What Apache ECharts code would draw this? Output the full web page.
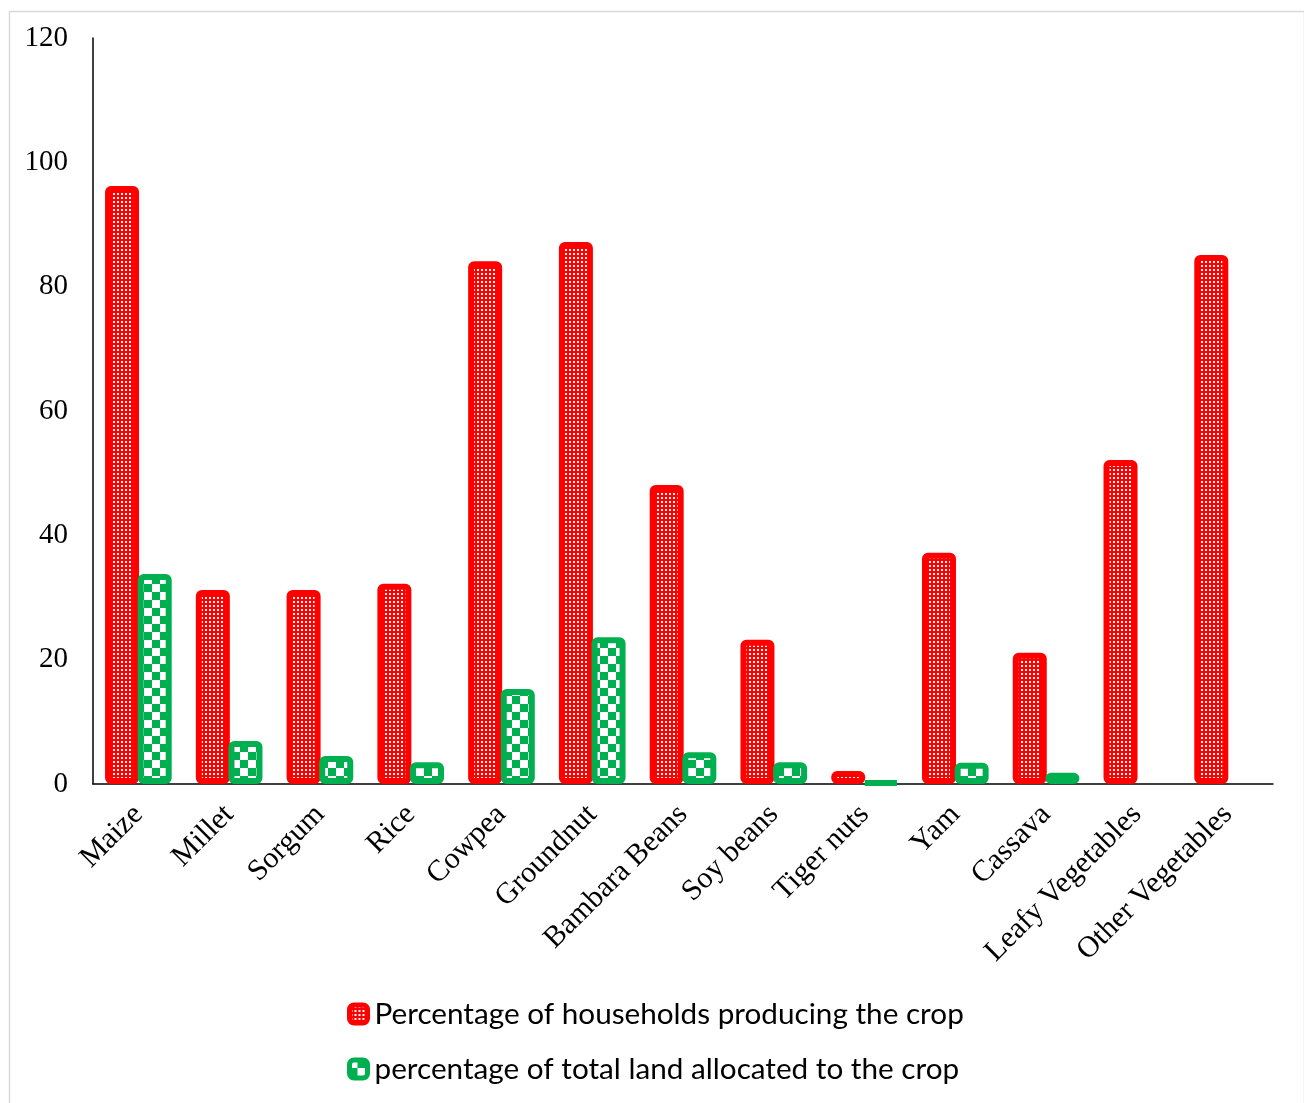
<!DOCTYPE html>
<html>
<head>
<meta charset="utf-8">
<script src="https://cdn.jsdelivr.net/npm/echarts@6/dist/echarts.min.js"></script>
<style>html,body{margin:0;padding:0;background:#fff}#c{width:1304px;height:1103px}</style>
</head>
<body>
<div id="c"></div>
<script>
var categories = ['Maize','Millet','Sorgum','Rice','Cowpea','Groundnut','Bambara Beans','Soy beans','Tiger nuts','Yam','Cassava','Leafy Vegetables','Other Vegetables'];
var households = [96.2, 31.2, 31.2, 32.2, 84.1, 87.2, 48.1, 23.2, 2.1, 37.2, 21.1, 52.1, 85.1];
var landShare = [33.8, 6.9, 4.5, 3.5, 15.3, 23.6, 5.1, 3.5, 0.3, 3.4, 1.8, null, null];
var yTicks = [0, 20, 40, 60, 80, 100, 120];
var seriesNames = ['Percentage of households producing the crop', 'percentage of total land allocated to the crop'];

var RED = '#FF0000', GREEN = '#00B050';
function dotPattern() {
  var c = document.createElement('canvas'); c.width = 4; c.height = 4;
  var g = c.getContext('2d');
  g.fillStyle = RED; g.fillRect(0, 0, 4, 4);
  g.fillStyle = '#ffffff'; g.fillRect(1, 1, 2, 2);
  return c;
}
function checkPattern() {
  var c = document.createElement('canvas'); c.width = 16; c.height = 16;
  var g = c.getContext('2d');
  g.fillStyle = GREEN; g.fillRect(0, 0, 16, 16);
  g.fillStyle = '#ffffff'; g.fillRect(0, 0, 8, 8); g.fillRect(8, 8, 8, 8);
  return c;
}
var redFill = { image: dotPattern(), repeat: 'repeat' };
var greenFill = { image: checkPattern(), repeat: 'repeat' };

var chart = echarts.init(document.getElementById('c'), null, { renderer: 'canvas' });
chart.setOption({
  animation: false,
  backgroundColor: '#ffffff',
  graphic: [{
    type: 'rect', left: 7, top: 9, silent: true,
    shape: { width: 1295, height: 1110 },
    style: { fill: 'none', stroke: '#d9d9d9', lineWidth: 1.5 }
  }],
  grid: { left: 93, right: 31, top: 38, bottom: 319, containLabel: false },
  legend: {
    orient: 'vertical', left: 342, top: 994, itemGap: 25,
    itemWidth: 18, itemHeight: 18, icon: 'roundRect',
    itemStyle: { borderWidth: 5 },
    textStyle: { fontFamily: 'Lato', fontSize: 29.7, color: '#000', lineHeight: 30, padding: [0, 0, 0, 2] },
    data: seriesNames
  },
  xAxis: {
    type: 'category', data: categories,
    axisLine: { lineStyle: { color: '#000', width: 1.5 } },
    axisTick: { show: false },
    axisLabel: { rotate: 45, interval: 0, margin: 26, fontFamily: 'Liberation Serif', fontSize: 30, color: '#000' }
  },
  yAxis: {
    type: 'value', min: 0, max: 120, interval: 20,
    axisLine: { show: true, lineStyle: { color: '#000', width: 1.5 } },
    axisTick: { show: false },
    splitLine: { show: false },
    axisLabel: {
      margin: 25, fontFamily: 'Liberation Serif', fontSize: 29, color: '#000',
      formatter: function (v) { return yTicks.indexOf(v) >= 0 ? String(v) : ''; }
    }
  },
  series: [
    {
      name: seriesNames[0], type: 'bar', data: households,
      barWidth: 34, barGap: '-4%',
      itemStyle: { color: redFill, borderColor: RED, borderWidth: 6, borderRadius: 3 }
    },
    {
      name: seriesNames[1], type: 'bar', data: landShare,
      barWidth: 34,
      itemStyle: { color: greenFill, borderColor: GREEN, borderWidth: 6, borderRadius: 3 }
    }
  ]
});
</script>
</body>
</html>
